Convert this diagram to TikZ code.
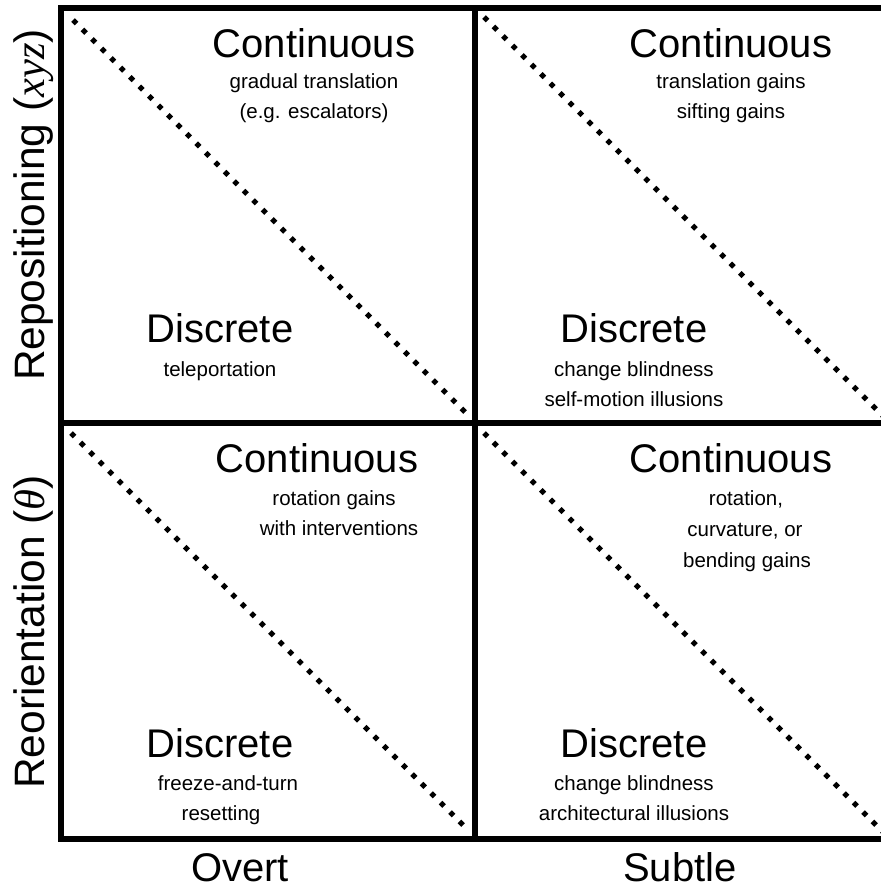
\documentclass[tikz,border=0pt]{standalone}
\usepackage{fontspec}
\setmainfont{Liberation Sans}
\newfontfamily\varfont{Liberation Serif}
\newcommand{\axisvar}[1]{{\varfont\itshape #1}}
\begin{document}
\begin{tikzpicture}[x=1pt,y=-1pt,
  gridline/.style={line width=6pt},
  diag/.style={line width=5pt, dash pattern=on 5pt off 8.4pt},
  head/.style={font=\fontsize{40}{44}\selectfont, inner sep=0pt, anchor=base},
  body/.style={font=\fontsize{20.5}{30}\selectfont, inner sep=0pt, anchor=base},
  axislabel/.style={font=\fontsize{40}{44}\selectfont, inner sep=0pt, anchor=base},
  sidelabel/.style={font=\fontsize{42.5}{46}\selectfont, inner sep=0pt, anchor=base, rotate=90}]
\useasboundingbox (0,0) rectangle (881,892);
\clip (0,0) rectangle (881,892);

% grid corners
\coordinate (g00) at (61,8);
\coordinate (g10) at (475,8);
\coordinate (g20) at (900,8);
\coordinate (g01) at (61,423);
\coordinate (g11) at (475,423);
\coordinate (g21) at (900,423);
\coordinate (g02) at (61,839);
\coordinate (g12) at (475,839);
\coordinate (g22) at (900,839);

% quadrant frame
\draw[gridline] (g20) -- (g00) -- (g02) -- (g22);
\draw[gridline] (g10) -- (g12);
\draw[gridline] (g01) -- (g21);

% dotted diagonals
\coordinate (d1a) at (73,20);   \coordinate (d1b) at (466,413);
\coordinate (d2a) at (484,17);  \coordinate (d2b) at (900,433);
\coordinate (d3a) at (71,433);  \coordinate (d3b) at (468,830);
\coordinate (d4a) at (484,433); \coordinate (d4b) at (900,849);
\draw[diag] (d1a) -- (d1b);
\draw[diag] (d2a) -- (d2b);
\draw[diag] (d3a) -- (d3b);
\draw[diag] (d4a) -- (d4b);

% top-left: overt repositioning
\node[head] (tlc)  at (314,57)  {Continuous};
\node[body] (tlc1) at (314,88)  {gradual translation};
\node[body] (tlc2) at (314,118) {(e.g. escalators)};
\node[head] (tld)  at (220,342) {Discrete};
\node[body] (tld1) at (220,376) {teleportation};

% top-right: subtle repositioning
\node[head] (trc)  at (731,57)  {Continuous};
\node[body] (trc1) at (731,88)  {translation gains};
\node[body] (trc2) at (731,118) {sifting gains};
\node[head] (trd)  at (634,342) {Discrete};
\node[body] (trd1) at (634,376) {change blindness};
\node[body] (trd2) at (634,406) {self-motion illusions};

% bottom-left: overt reorientation
\node[head] (blc)  at (317,472) {Continuous};
\node[body] (blc1) at (334,505) {rotation gains};
\node[body] (blc2) at (339,535) {with interventions};
\node[head] (bld)  at (220,757) {Discrete};
\node[body] (bld1) at (228,790) {freeze-and-turn};
\node[body] (bld2) at (221,820) {resetting};

% bottom-right: subtle reorientation
\node[head] (brc)  at (731,472) {Continuous};
\node[body] (brc1) at (746,505) {rotation,};
\node[body] (brc2) at (745,536) {curvature, or};
\node[body] (brc3) at (747,567) {bending gains};
\node[head] (brd)  at (634,757) {Discrete};
\node[body] (brd1) at (634,790) {change blindness};
\node[body] (brd2) at (634,820) {architectural illusions};

% axis labels
\node[axislabel] (xov) at (240,881) {Overt};
\node[axislabel] (xsu) at (680,881) {Subtle};
\node[sidelabel] (yrp) at (44,205) {Repositioning (\axisvar{xyz})};
\node[sidelabel] (yro) at (44,632) {Reorientation (\axisvar{θ})};
\end{tikzpicture}
\end{document}
